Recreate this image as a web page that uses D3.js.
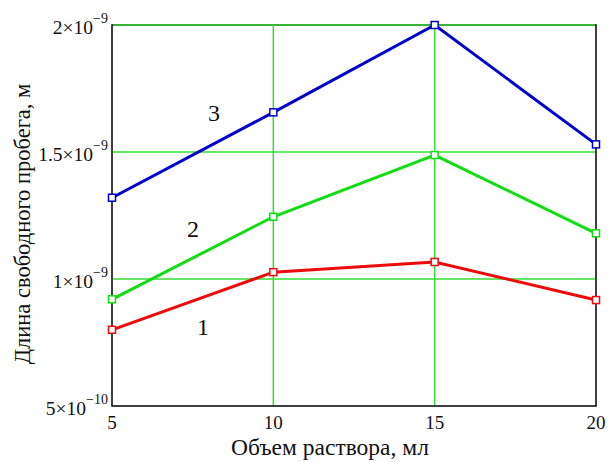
<!DOCTYPE html>
<html>
<head>
<meta charset="utf-8">
<script src="https://cdn.jsdelivr.net/npm/d3@7"></script>
<style>
  body { margin: 0; background: #fff; }
  text { font-family: "Liberation Serif", "DejaVu Serif", serif; fill: #111; }
</style>
</head>
<body>
<div id="chart"></div>
<script>
// volumes, ml
const volumes = [5, 10, 15, 20];
// mean free path, m
const series1 = [0.80e-9, 1.027e-9, 1.067e-9, 0.917e-9];
const series2 = [0.92e-9, 1.245e-9, 1.488e-9, 1.18e-9];
const series3 = [1.32e-9, 1.656e-9, 2.0e-9, 1.53e-9];
const seriesNames = ["1", "2", "3"];
// where the curve numbers sit (data coords)
const labelX = [7.82, 7.51, 8.16];
const labelY = [0.811e-9, 1.197e-9, 1.653e-9];

const yTicks = [5e-10, 1e-9, 1.5e-9, 2e-9];
const yTickMant = ["5", "1", "1.5", "2"];
const yTickExp = ["\u221210", "\u22129", "\u22129", "\u22129"];
const xTicks = [5, 10, 15, 20];

const width = 610, height = 462;
const margin = {top: 25, right: 14, bottom: 56, left: 112};

const svg = d3.select("#chart").append("svg")
    .attr("width", width)
    .attr("height", height);

const x = d3.scaleLinear().domain([5, 20]).range([margin.left, width - margin.right]);
const y = d3.scaleLinear().domain([5e-10, 2e-9]).range([height - margin.bottom, margin.top]);

const colors = ["#ee0a0a", "#11dd11", "#0000cc"];
const gridColor = "#33dd33";

// frame
svg.append("rect")
    .attr("x", x(5)).attr("y", y(2e-9))
    .attr("width", x(20) - x(5)).attr("height", y(5e-10) - y(2e-9))
    .attr("fill", "none").attr("stroke", "#000").attr("stroke-width", 1.5);

// grid
svg.append("g").selectAll("line")
    .data([1e-9, 1.5e-9, 2e-9])
    .enter().append("line")
    .attr("x1", x(5) + 1).attr("x2", x(20) - 1)
    .attr("y1", d => y(d)).attr("y2", d => y(d))
    .attr("stroke", gridColor).attr("stroke-width", 1.5);

svg.append("g").selectAll("line")
    .data([10, 15])
    .enter().append("line")
    .attr("x1", d => x(d)).attr("x2", d => x(d))
    .attr("y1", y(2e-9)).attr("y2", y(5e-10) - 1)
    .attr("stroke", gridColor).attr("stroke-width", 1.5);

// y tick labels
const yLab = svg.append("g").selectAll("text")
    .data(yTicks)
    .enter().append("text")
    .attr("x", margin.left - 4)
    .attr("y", d => y(d) + 9)
    .attr("text-anchor", "end")
    .style("font-size", "19.5px");
yLab.append("tspan").text((d, i) => yTickMant[i] + "\u00d710");
yLab.append("tspan")
    .attr("dy", -11)
    .style("font-size", "14px")
    .text((d, i) => yTickExp[i]);

// x tick labels
svg.append("g").selectAll("text")
    .data(xTicks)
    .enter().append("text")
    .attr("x", d => x(d))
    .attr("y", y(5e-10) + 23)
    .attr("text-anchor", "middle")
    .style("font-size", "19px")
    .text(d => d);

// axis titles
svg.append("text")
    .attr("x", 330).attr("y", 455)
    .attr("text-anchor", "middle")
    .style("font-size", "23.5px")
    .text("Объем раствора, мл");

svg.append("text")
    .attr("transform", "translate(30,224) rotate(-90)")
    .attr("text-anchor", "middle")
    .style("font-size", "22.5px")
    .text("Длина свободного пробега, м");

// lines + markers
const line = d3.line().x((d, i) => x(volumes[i])).y(d => y(d));
[series1, series2, series3].forEach((s, k) => {
    svg.append("path")
        .attr("d", line(s))
        .attr("fill", "none")
        .attr("stroke", colors[k])
        .attr("stroke-width", 3);
    svg.append("g").selectAll("rect")
        .data(s)
        .enter().append("rect")
        .attr("x", (d, i) => x(volumes[i]) - 3.5)
        .attr("y", d => y(d) - 3.5)
        .attr("width", 7).attr("height", 7)
        .attr("fill", "white")
        .attr("stroke", colors[k])
        .attr("stroke-width", 1.5);
});

// curve numbers
svg.append("g").selectAll("text")
    .data(seriesNames)
    .enter().append("text")
    .attr("x", (d, i) => x(labelX[i]))
    .attr("y", (d, i) => y(labelY[i]) + 8)
    .attr("text-anchor", "middle")
    .style("font-size", "24px")
    .text(d => d);
</script>
</body>
</html>
